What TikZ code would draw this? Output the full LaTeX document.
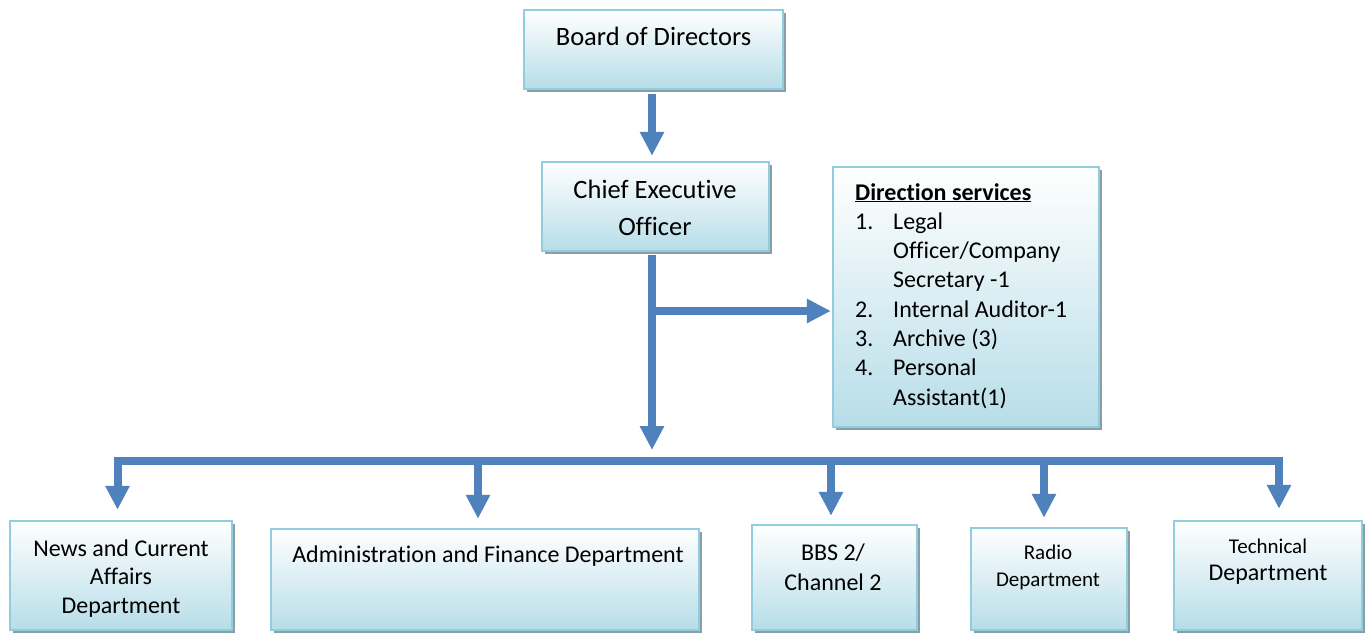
\documentclass[tikz,border=0pt]{standalone}
\usepackage{fontspec}
\setmainfont[RawFeature={-liga;-clig;-calt;-dlig}]{Carlito}
\usetikzlibrary{arrows.meta,shadows,calc}
\definecolor{arrowblue}{RGB}{79,129,189}
\definecolor{boxedge}{RGB}{146,205,221}
\definecolor{boxbot}{RGB}{183,221,232}
\definecolor{shadowc}{RGB}{138,158,166}
\newcommand{\mlines}[1]{\begin{tabular}[t]{@{}c@{}}#1\end{tabular}}
\begin{document}
\begin{tikzpicture}[x=1pt,y=-1pt,
  orgbox/.style={draw=boxedge, line width=2.5pt, top color=white, bottom color=boxbot,
    inner sep=0pt, drop shadow={shadow xshift=3pt, shadow yshift=-3pt, fill=shadowc, opacity=1}},
  txt/.style={inner sep=0pt, font=\fontsize{24}{29}\selectfont},
  conn/.style={draw=arrowblue, line width=8pt, -{Triangle[width=23pt,length=24pt]}},
  busline/.style={draw=arrowblue, line width=8pt, line cap=rect}]
\useasboundingbox (0,0) rectangle (1370,633);

% boxes
\node[orgbox, minimum width=259pt, minimum height=79pt] (board) at (653.5,49.5) {};
\node[orgbox, minimum width=227pt, minimum height=89pt] (ceo) at (655.5,206.5) {};
\node[orgbox, minimum width=266pt, minimum height=260pt] (dir) at (966,297) {};
\node[orgbox, minimum width=222pt, minimum height=109pt] (news) at (121,575.5) {};
\node[orgbox, minimum width=428pt, minimum height=101pt] (admin) at (485,579.5) {};
\node[orgbox, minimum width=165pt, minimum height=105pt] (bbs) at (834.5,577.5) {};
\node[orgbox, minimum width=156pt, minimum height=102pt] (radio) at (1049,579) {};
\node[orgbox, minimum width=188pt, minimum height=109pt] (tech) at (1268,575.5) {};

% texts
\node[txt, anchor=base, font=\fontsize{26.5}{32}\selectfont] (boardT) at (653.5,45) {Board of Directors};
\node[txt, anchor=base, font=\fontsize{26.5}{37}\selectfont] (ceoT) at (655,198) {\mlines{Chief Executive\\Officer}};
\node[txt, anchor=base west, font=\fontsize{24}{29.3}\selectfont] (dirT) at (855,200) {%
\begin{tabular}[t]{@{}l@{}l@{}}
\multicolumn{2}{@{}l@{}}{\textbf{\underline{Direction services}}}\\
\makebox[38pt][l]{1.} & Legal\\
 & Officer/Company\\
 & Secretary -1\\
\makebox[38pt][l]{2.} & Internal Auditor-1\\
\makebox[38pt][l]{3.} & Archive (3)\\
\makebox[38pt][l]{4.} & Personal\\
 & Assistant(1)
\end{tabular}};
\node[txt, anchor=base, font=\fontsize{24}{28.5}\selectfont] (newsT) at (121,556) {\mlines{News and Current\\Affairs\\Department}};
\node[txt, anchor=base] (adminT) at (488,562) {Administration and Finance Department};
\node[txt, anchor=base, font=\fontsize{24}{30}\selectfont] (bbsT) at (833,560) {\mlines{BBS 2/\\Channel 2}};
\node[txt, anchor=base, font=\fontsize{21}{27}\selectfont] (radioT) at (1048,559) {\mlines{Radio\\Department}};
\node[txt, anchor=base, font=\fontsize{21}{27}\selectfont] (techT) at (1268,553) {\mlines{Technical\\{\fontsize{24}{27}\selectfont Department}}};

% connectors
\coordinate (hub) at (652,450);
\coordinate (br) at (652,311);
\coordinate (b1) at (117.5,461);
\coordinate (b2) at (478,461);
\coordinate (b3) at (831,461);
\coordinate (b4) at (1044,461);
\coordinate (b5) at (1279,461);

\draw[conn, shorten <=4pt, shorten >=5pt] (board.south -| hub) -- (ceo.north -| hub);
\draw[conn, shorten <=3pt] (ceo.south -| hub) -- (hub);
\draw[conn, shorten >=1pt] (br) -- (dir.west |- br);
\draw[busline] (b1) -- (b5);
\draw[conn, shorten >=10pt] (b1) -- (b1 |- news.north);
\draw[conn, shorten >=9pt] (b2) -- (b2 |- admin.north);
\draw[conn, shorten >=8pt] (b3) -- (b3 |- bbs.north);
\draw[conn, shorten >=9pt] (b4) -- (b4 |- radio.north);
\draw[conn, shorten >=11pt] (b5) -- (b5 |- tech.north);
\end{tikzpicture}
\end{document}
